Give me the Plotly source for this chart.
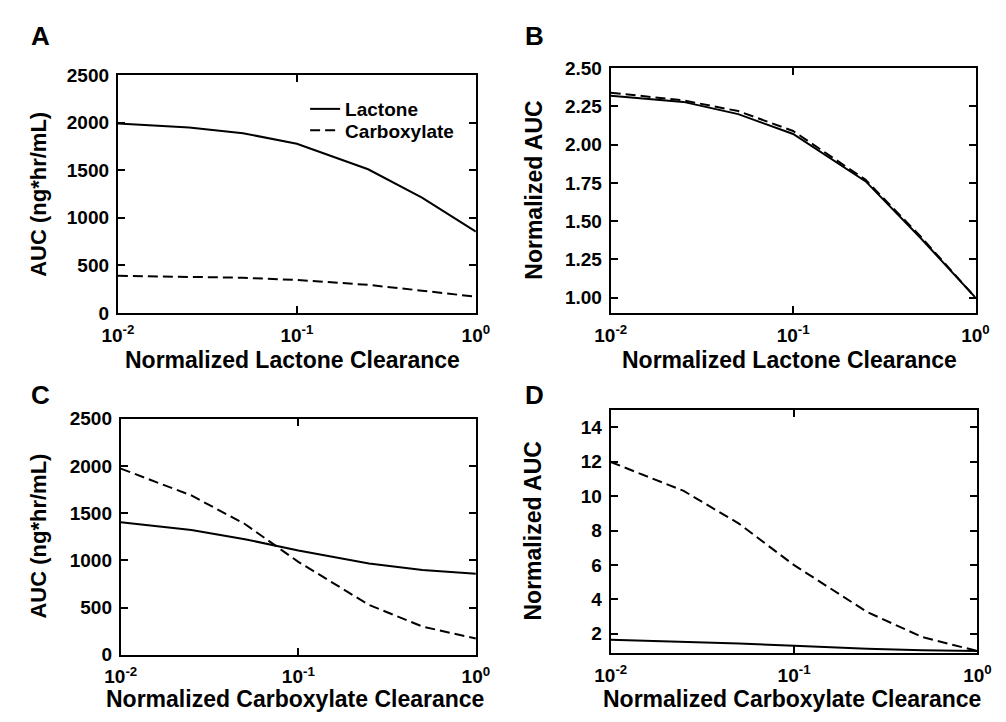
import plotly.graph_objects as go

# Shared clearance grid (normalized clearance)
clearance = [0.01, 0.025, 0.05, 0.1, 0.25, 0.5, 1.0]

# Panel A: AUC vs normalized lactone clearance
a_lactone = [1990, 1950, 1889, 1777, 1510, 1211, 855]
a_carbox = [390, 383, 370, 346, 295, 234, 170]

# Panel B: normalized AUC vs normalized lactone clearance
b_lactone = [2.32, 2.28, 2.20, 2.07, 1.76, 1.39, 1.00]
b_carbox = [2.34, 2.29, 2.22, 2.09, 1.77, 1.40, 1.00]

# Panel C: AUC vs normalized carboxylate clearance
c_lactone = [1403, 1320, 1224, 1104, 967, 898, 857]
c_carbox = [1972, 1687, 1385, 984, 528, 298, 171]

# Panel D: normalized AUC vs normalized carboxylate clearance
d_lactone = [1.66, 1.55, 1.44, 1.30, 1.13, 1.05, 1.00]
d_carbox = [11.98, 10.3, 8.4, 5.99, 3.27, 1.81, 1.00]

x_tickvals = [0.01, 0.1, 1]
x_ticktext = ["10<sup>-2</sup>", "10<sup>-1</sup>", "10<sup>0</sup>"]

auc_ticks = [0, 500, 1000, 1500, 2000, 2500]
b_ticks = [1.00, 1.25, 1.50, 1.75, 2.00, 2.25, 2.50]
d_ticks = [2, 4, 6, 8, 10, 12, 14]

FONT = "Liberation Sans"
W, H = 1006, 722

def px_x(p):
    return p / W

def px_y(p):
    return 1 - p / H

fig = go.Figure()

panels = [
    ("x", "y", a_lactone, a_carbox, True),
    ("x2", "y2", b_lactone, b_carbox, False),
    ("x3", "y3", c_lactone, c_carbox, False),
    ("x4", "y4", d_lactone, d_carbox, False),
]
for xa, ya, lac, carb, show in panels:
    fig.add_trace(go.Scatter(x=clearance, y=lac, mode="lines", name="Lactone",
                             line=dict(color="black", width=2), xaxis=xa, yaxis=ya,
                             showlegend=show, legend="legend"))
    fig.add_trace(go.Scatter(x=clearance, y=carb, mode="lines", name="Carboxylate",
                             line=dict(color="black", width=2, dash="10px,5px"),
                             xaxis=xa, yaxis=ya, showlegend=show, legend="legend2"))

common_axis = dict(showline=True, linecolor="black", linewidth=2, mirror="ticks",
                   ticks="inside", ticklen=7, tickwidth=2, tickcolor="black",
                   showgrid=False, zeroline=False,
                   tickfont=dict(family=FONT, size=19, color="black", weight="bold"))

def xaxis(dom, anchor):
    return dict(type="log", domain=dom, anchor=anchor, range=[-2, 0],
                tickvals=x_tickvals, ticktext=x_ticktext, ticklabelstandoff=4,
                **common_axis)

def yaxis(dom, anchor, rng, vals, text):
    return dict(domain=dom, anchor=anchor, range=rng, tickvals=vals, ticktext=text,
                ticklabelstandoff=3, **common_axis)

legend_font = dict(family=FONT, size=19, color="black", weight="bold")

fig.update_layout(
    width=W, height=H,
    margin=dict(l=0, r=0, t=0, b=0),
    paper_bgcolor="white", plot_bgcolor="white",
    font=dict(family=FONT, color="black"),
    xaxis=xaxis([px_x(105), px_x(474)], "y"),
    yaxis=yaxis([px_y(312), px_y(67)], "x", [0, 2500], auc_ticks, [str(v) for v in auc_ticks]),
    xaxis2=xaxis([px_x(613), px_x(989)], "y2"),
    yaxis2=yaxis([px_y(312), px_y(60)], "x2", [0.9, 2.5], b_ticks, ["%.2f" % v for v in b_ticks]),
    xaxis3=xaxis([px_x(108), px_x(474)], "y3"),
    yaxis3=yaxis([px_y(664), px_y(421)], "x3", [0, 2500], auc_ticks, [str(v) for v in auc_ticks]),
    xaxis4=xaxis([px_x(613), px_x(991)], "y4"),
    yaxis4=yaxis([px_y(662), px_y(412)], "x4", [0.9, 15], d_ticks, [str(v) for v in d_ticks]),
    legend=dict(x=px_x(298), y=px_y(102), xanchor="left", yanchor="middle",
                bgcolor="rgba(0,0,0,0)", itemwidth=30, font=legend_font),
    legend2=dict(x=px_x(298), y=px_y(124), xanchor="left", yanchor="middle",
                 bgcolor="rgba(0,0,0,0)", itemwidth=30, font=legend_font),
    showlegend=True,
)

def ann(text, x, y, size, angle=0):
    fig.add_annotation(text=text, x=px_x(x), y=px_y(y), xref="paper", yref="paper",
                       showarrow=False, textangle=angle, xanchor="center", yanchor="middle",
                       font=dict(family=FONT, size=size, color="black", weight="bold"))

# panel letters
ann("A", 25, 27, 26)
ann("B", 534, 27, 26)
ann("C", 25, 397, 26)
ann("D", 534, 397, 26)

# x titles
ann("Normalized Lactone Clearance", 285, 360, 23)
ann("Normalized Lactone Clearance", 797, 360, 23)
ann("Normalized Carboxylate Clearance", 288, 710, 23)
ann("Normalized Carboxylate Clearance", 800, 710, 23)

# y titles
ann("AUC (ng*hr/mL)", 23, 190, 22, -90)
ann("Normalized AUC", 533, 186, 23, -90)
ann("AUC (ng*hr/mL)", 23, 542, 22, -90)
ann("Normalized AUC", 533, 537, 23, -90)

fig.write_html("out.html")
